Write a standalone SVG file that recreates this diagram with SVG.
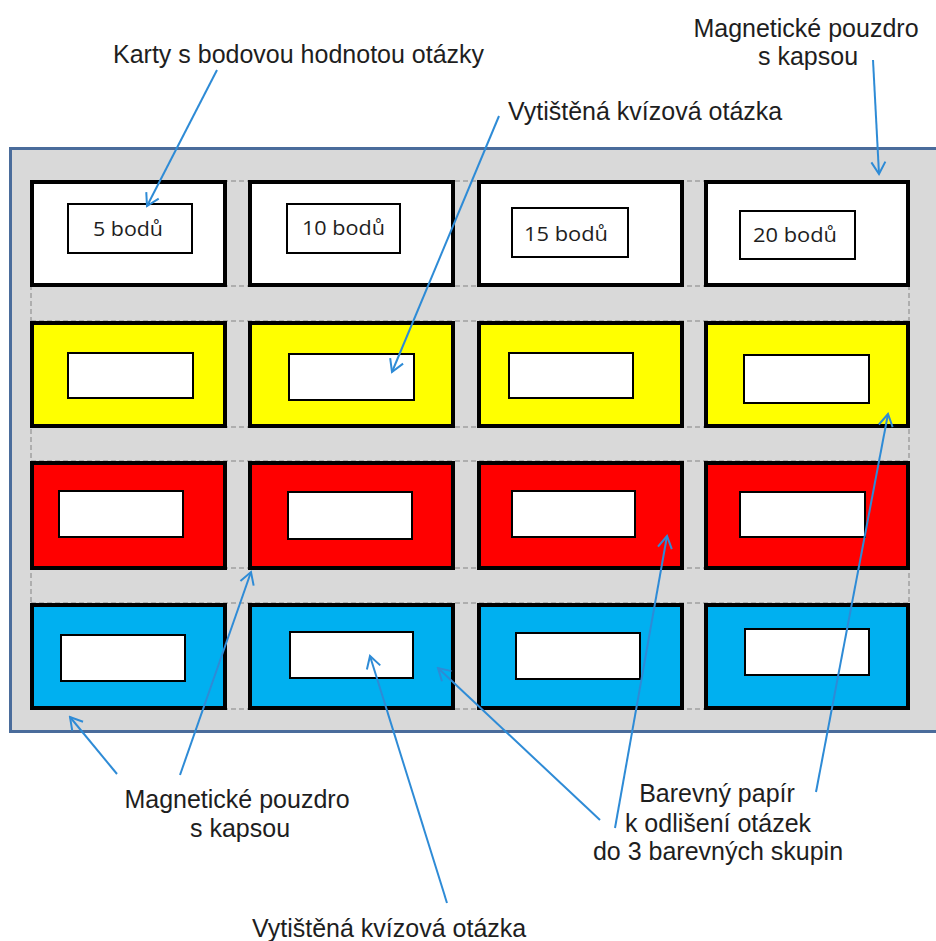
<svg xmlns="http://www.w3.org/2000/svg" width="936" height="941" viewBox="0 0 936 941">
<style>
.lbl{font-family:"Liberation Sans",Arial,sans-serif;font-size:25px;fill:#1e1e1e}
.pts{font-family:"Open Sans","Noto Sans",sans-serif;font-size:20px;fill:#1e1e1e}
.card{stroke:#000;stroke-width:4}
.inner{fill:#fff;stroke:#000;stroke-width:2}
.w{fill:#fff}.y{fill:#ffff00}.r{fill:#ff0000}.b{fill:#00b0f0}
.dash{stroke:#a0a0a0;stroke-width:1.5;stroke-dasharray:5 3;fill:none}
.arr{stroke:#2e8bd6;stroke-width:2;fill:none;marker-end:url(#ah)}
</style>
<defs>
<marker id="ah" viewBox="-15 -9 17 18" refX="0" refY="0" markerWidth="17" markerHeight="18" markerUnits="userSpaceOnUse" orient="auto">
<path d="M-12,-7 L0,0 L-12,7" fill="none" stroke="#2e8bd6" stroke-width="2"/>
</marker>
</defs>
<rect width="936" height="941" fill="#fff"/>
<g id="board">
<rect x="10.5" y="148.5" width="940" height="583" fill="#d9d9d9" stroke="#4a6c9b" stroke-width="3"/>
<g class="dash">
<line x1="31" y1="181" x2="31" y2="709"/>
<line x1="909" y1="181" x2="909" y2="709"/>
<line x1="31" y1="181" x2="909" y2="181"/>
<line x1="31" y1="286" x2="909" y2="286"/>
<line x1="31" y1="321" x2="909" y2="321"/>
<line x1="31" y1="427" x2="909" y2="427"/>
<line x1="31" y1="461" x2="909" y2="461"/>
<line x1="31" y1="568" x2="909" y2="568"/>
<line x1="31" y1="603" x2="909" y2="603"/>
<line x1="31" y1="709" x2="909" y2="709"/>
</g>
</g>
<g id="row1">
<g id="c11"><rect class="card w" x="32" y="182" width="193" height="103"/><rect class="inner" x="68" y="204" width="124" height="49"/><text class="pts" x="93" y="236" textLength="70" lengthAdjust="spacingAndGlyphs">5 bodů</text></g>
<g id="c12"><rect class="card w" x="250" y="182" width="203" height="103"/><rect class="inner" x="287" y="204" width="113" height="49"/><text class="pts" x="302" y="235" textLength="83" lengthAdjust="spacingAndGlyphs">10 bodů</text></g>
<g id="c13"><rect class="card w" x="479" y="182" width="203" height="103"/><rect class="inner" x="512" y="208" width="116" height="49"/><text class="pts" x="524" y="241" textLength="84" lengthAdjust="spacingAndGlyphs">15 bodů</text></g>
<g id="c14"><rect class="card w" x="706" y="182" width="202" height="103"/><rect class="inner" x="740" y="211" width="115" height="48"/><text class="pts" x="753" y="242" textLength="84" lengthAdjust="spacingAndGlyphs">20 bodů</text></g>
</g>
<g id="row2">
<g id="c21"><rect class="card y" x="32" y="323" width="193" height="103"/><rect class="inner" x="68" y="353" width="125" height="45"/></g>
<g id="c22"><rect class="card y" x="250" y="323" width="203" height="103"/><rect class="inner" x="289" y="354" width="125" height="46"/></g>
<g id="c23"><rect class="card y" x="479" y="323" width="203" height="103"/><rect class="inner" x="509" y="353" width="124" height="45"/></g>
<g id="c24"><rect class="card y" x="706" y="323" width="202" height="103"/><rect class="inner" x="744" y="355" width="125" height="48"/></g>
</g>
<g id="row3">
<g id="c31"><rect class="card r" x="32" y="463" width="193" height="105"/><rect class="inner" x="59" y="491" width="124" height="46"/></g>
<g id="c32"><rect class="card r" x="250" y="463" width="203" height="105"/><rect class="inner" x="288" y="492" width="124" height="47"/></g>
<g id="c33"><rect class="card r" x="479" y="463" width="203" height="105"/><rect class="inner" x="512" y="491" width="123" height="46"/></g>
<g id="c34"><rect class="card r" x="706" y="463" width="202" height="105"/><rect class="inner" x="740" y="492" width="125" height="45"/></g>
</g>
<g id="row4">
<g id="c41"><rect class="card b" x="32" y="605" width="193" height="103"/><rect class="inner" x="61" y="635" width="124" height="46"/></g>
<g id="c42"><rect class="card b" x="250" y="605" width="203" height="103"/><rect class="inner" x="290" y="632" width="123" height="46"/></g>
<g id="c43"><rect class="card b" x="479" y="605" width="203" height="103"/><rect class="inner" x="516" y="633" width="124" height="46"/></g>
<g id="c44"><rect class="card b" x="706" y="605" width="202" height="103"/><rect class="inner" x="745" y="629" width="124" height="46"/></g>
</g>
<g id="labels">
<text class="lbl" x="113" y="63">Karty s bodovou hodnotou otázky</text>
<text class="lbl" x="508" y="120">Vytištěná kvízová otázka</text>
<text class="lbl" text-anchor="middle" x="806" y="37">Magnetické pouzdro</text>
<text class="lbl" text-anchor="middle" x="808" y="65">s kapsou</text>
<text class="lbl" text-anchor="middle" x="237" y="808">Magnetické pouzdro</text>
<text class="lbl" text-anchor="middle" x="240" y="837">s kapsou</text>
<text class="lbl" x="252" y="937">Vytištěná kvízová otázka</text>
<text class="lbl" text-anchor="middle" x="717" y="802">Barevný papír</text>
<text class="lbl" text-anchor="middle" x="718" y="832">k odlišení otázek</text>
<text class="lbl" text-anchor="middle" x="718" y="860">do 3 barevných skupin</text>
</g>
<g id="connectors">
<line class="arr" x1="217" y1="70" x2="147" y2="206"/>
<line class="arr" x1="499" y1="116" x2="392" y2="372"/>
<line class="arr" x1="873" y1="60" x2="879" y2="174"/>
<line class="arr" x1="117" y1="774" x2="70" y2="717"/>
<line class="arr" x1="180" y1="775" x2="251" y2="572"/>
<line class="arr" x1="447" y1="903" x2="370" y2="656"/>
<line class="arr" x1="600" y1="820" x2="438" y2="668"/>
<line class="arr" x1="615" y1="828" x2="667" y2="536"/>
<line class="arr" x1="816" y1="792" x2="888" y2="414"/>
</g>
</svg>
